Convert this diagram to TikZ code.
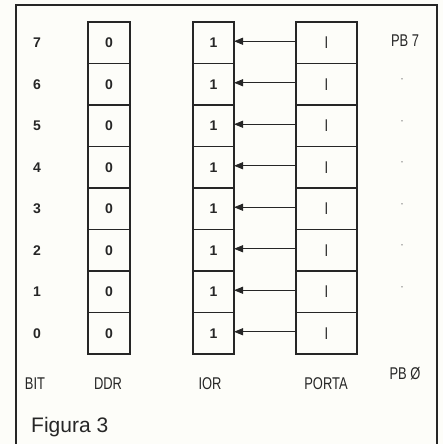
\documentclass[tikz,border=0pt]{standalone}
\usepackage{fontspec}
\setmainfont{Liberation Sans}
\newfontfamily\narrowfont[FakeStretch=0.76]{Liberation Sans}
\usetikzlibrary{arrows.meta}
\definecolor{ink}{HTML}{262626}
\definecolor{paper}{HTML}{FDFDF9}
\begin{document}
\begin{tikzpicture}[x=1pt,y=1pt,
  grid/.style={draw=ink,line width=1.1pt},
  cellbox/.style={inner sep=0pt,outer sep=0pt,minimum height=41.5pt,font=\fontsize{14}{14}\selectfont\bfseries,text=ink},
  ddrcell/.style={cellbox,minimum width=42pt},
  iorcell/.style={cellbox,minimum width=41pt},
  portcell/.style={cellbox,minimum width=61pt,font=\narrowfont\fontsize{17}{17}\selectfont},
  bitnum/.style={font=\fontsize{14}{14}\selectfont\bfseries,text=ink,inner sep=0pt},
  lbl/.style={font=\narrowfont\fontsize{17}{17}\selectfont,text=ink,inner sep=0pt},
  pbdot/.style={font=\fontsize{12}{12}\selectfont,text=ink!60,inner sep=0pt},
  arr/.style={draw=ink,line width=0.8pt,-{Triangle[length=9pt,width=7pt]}}]
\fill[paper] (0,-444) rectangle (443,0);
\useasboundingbox (0,-444) rectangle (443,0);
\draw[ink,line width=1.5pt] (16,-444) -- (16,-5) -- (437,-5) -- (437,-444);
\foreach \k/\yy in {7/-42.75,6/-84.25,5/-125.75,4/-167.25,3/-208.75,2/-250.25,1/-291.75,0/-333.25}{
  \node[bitnum] (b\k) at (37,\yy) {\k};
  \node[ddrcell,grid] (d\k) at (109,\yy) {0};
  \node[iorcell,grid] (i\k) at (213.5,\yy) {1};
  \node[portcell,grid] (p\k) at (326.5,\yy) {I};
  \draw[arr] ([yshift=1.5pt]p\k.west) -- ([yshift=1.5pt]i\k.east);
}
\node[lbl] (pb7) at (405,-41) {PB 7};
\node[lbl] (pb0) at (405,-374) {PB Ø};
\foreach \k/\yy in {6/-81,5/-122.5,4/-164,3/-205.5,2/-247,1/-288.5}{
  \node[pbdot] (dot\k) at (402,\yy) {·};
}
\node[lbl] (lbit) at (35,-384) {BIT};
\node[lbl] (lddr) at (108,-384) {DDR};
\node[lbl] (lior) at (210,-384) {IOR};
\node[lbl] (lport) at (326,-384) {PORTA};
\node[font=\fontsize{21}{21}\selectfont,text=ink,inner sep=0pt,anchor=west] (fig) at (31,-427) {Figura 3};
\end{tikzpicture}
\end{document}
